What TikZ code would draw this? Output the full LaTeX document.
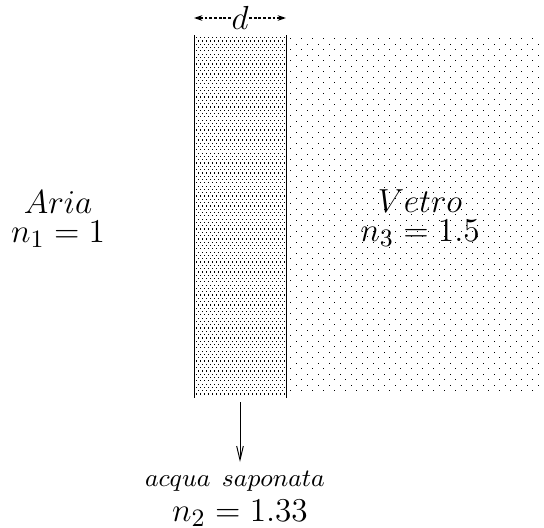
\documentclass[tikz,border=0pt]{standalone}
\usetikzlibrary{arrows.meta}
\begin{document}
\begin{tikzpicture}[x=0.36pt,y=-0.36pt,
  wall/.style={line width=0.3pt},
  lbl/.style={inner sep=0pt,align=center,font=\fontsize{12.7}{10.7}\selectfont},
  darr/.style={-{Stealth[length=3pt,width=2pt]},line width=0.5pt,dash pattern=on 1pt off 0.7pt},
  arr/.style={-{Straight Barb[length=5pt,width=2.4pt]},line width=0.35pt}]
  \useasboundingbox (0,0) rectangle (544,528);
  % film of soapy water (dense dots)
  \foreach \j in {0,...,108}{
    \pgfmathsetmacro{\yy}{37+3.3*\j}
    \pgfmathsetmacro{\xs}{196+2*mod(\j,2)}
    \pgfmathsetmacro{\xt}{\xs+4}
    \foreach \xx in {\xs,\xt,...,284}
      \fill (\xx,\yy) rectangle ++(0.9,1.2);
  }
  % glass (sparse dots)
  \foreach \j in {0,...,64}{
    \pgfmathsetmacro{\yy}{38+5.5*\j}
    \pgfmathsetmacro{\xs}{290+5.5*mod(\j,2)}
    \pgfmathsetmacro{\xt}{\xs+11}
    \foreach \xx in {\xs,\xt,...,540}
      \fill (\xx,\yy) rectangle ++(0.9,1.3);
  }
  \draw[wall] (194,35) -- (194,398);
  \draw[wall] (286,35) -- (286,398);
  % labels
  \node[lbl] (aria) at (58,219) {$Aria$\\$n_1=1$};
  \node[lbl] (vetro) at (420,218) {$Vetro$\\$n_3=1.5$};
  \node[lbl] (acqua) at (235,481) {$\scriptstyle acqua\ saponata$};
  \node[lbl] (n2) at (240,513) {$n_2=1.33$};
  \node[lbl] (d) at (240,18) {$d$};
  \coordinate (dl) at (194,18);
  \coordinate (dr) at (286,18);
  \draw[darr] (d) -- (dl);
  \draw[darr] (d) -- (dr);
  \coordinate (filmbot) at (240,402);
  \coordinate (tip) at (240,462);
  \draw[arr] (filmbot) -- (tip);
\end{tikzpicture}
\end{document}
